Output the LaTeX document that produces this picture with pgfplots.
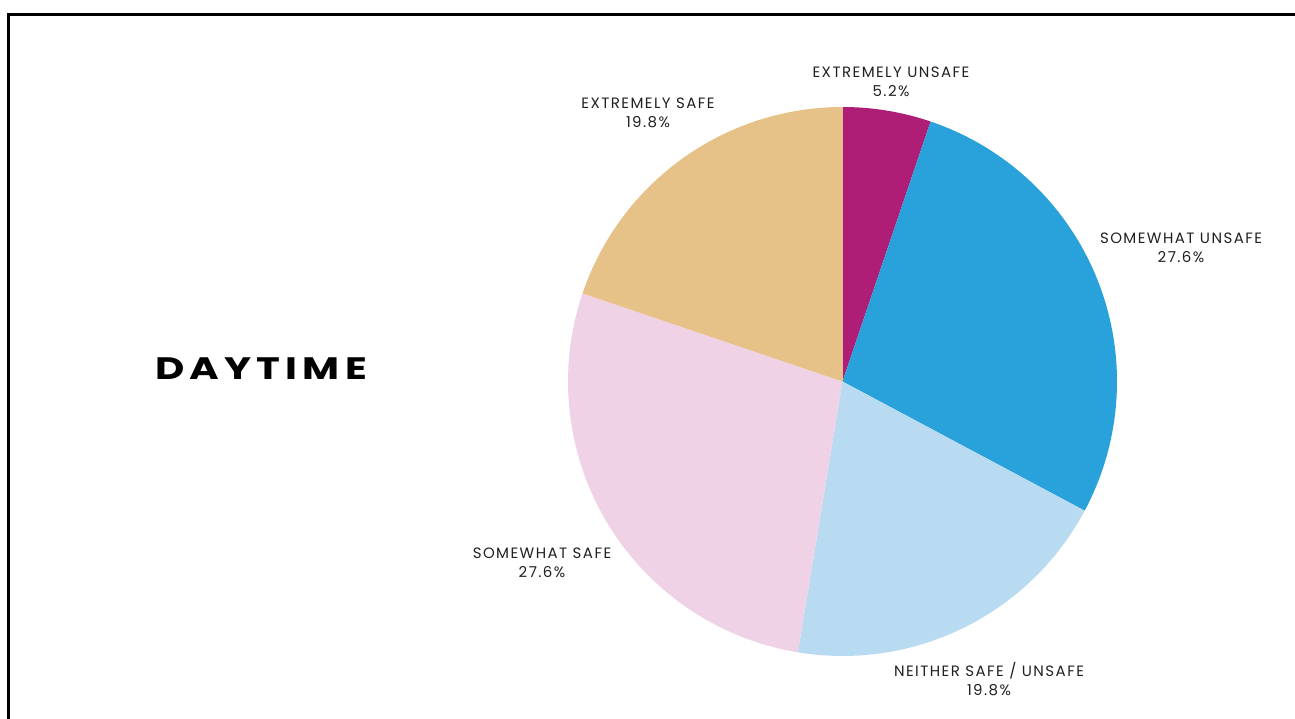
\documentclass[border=0pt]{standalone}
\usepackage{fontspec}
\setmainfont{Poppins}
\newfontfamily\labfont[LetterSpace=9.6]{Poppins}
\newfontfamily\titlefont[LetterSpace=13]{Poppins}
\usepackage{graphicx}
\usepackage{pgfplots}
\pgfplotsset{compat=1.18}
\definecolor{cMag}{HTML}{AE1E77}
\definecolor{cBlue}{HTML}{29A1DA}
\definecolor{cLBlue}{HTML}{B8DBF2}
\definecolor{cPink}{HTML}{F0D2E7}
\definecolor{cTan}{HTML}{E6C188}
\definecolor{cText}{HTML}{231F20}
% slice: start (%), value (%), colour
\newcommand{\slice}[3]{%
  \addplot[fill=#3, draw=none, domain=0:1, samples=120]
    ({842.5+274.5*cos(90-3.6*(#1+#2*x))},{337.5+274.5*sin(90-3.6*(#1+#2*x))})
    -- (axis cs:842.5,337.5) -- cycle;}
\begin{document}
\begin{tikzpicture}
\begin{axis}[x=1pt, y=1pt, xmin=0, xmax=1295, ymin=0, ymax=719,
  hide axis, clip=false, scale only axis]
\path[use as bounding box] (axis cs:0,0) rectangle (axis cs:1295,719);
\slice{0}{5.2}{cMag}
\slice{5.2}{27.6}{cBlue}
\slice{32.8}{19.8}{cLBlue}
\slice{52.6}{27.6}{cPink}
\slice{80.2}{19.8}{cTan}
\draw[line width=3pt, black] (axis cs:8.5,0) -- (axis cs:8.5,704.5) -- (axis cs:1295,704.5);
\tikzset{lab/.style={align=center, inner sep=0pt, text=cText, font=\labfont\fontsize{15}{19}\selectfont}}
\node[lab] at (axis cs:891,637) {EXTREMELY UNSAFE\\5.2\%};
\node[lab] at (axis cs:1181,471.5) {SOMEWHAT UNSAFE\\27.6\%};
\node[lab] at (axis cs:989,40) {NEITHER SAFE / UNSAFE\\19.8\%};
\node[lab] at (axis cs:542,156.5) {SOMEWHAT SAFE\\27.6\%};
\node[lab] at (axis cs:648,606.5) {EXTREMELY SAFE\\19.8\%};
\node[inner sep=0pt, font=\titlefont\fontsize{31}{36}\selectfont\bfseries] at (axis cs:261,350) {\scalebox{1.3}[1]{DAYTIME}};
\end{axis}
\end{tikzpicture}
\end{document}
